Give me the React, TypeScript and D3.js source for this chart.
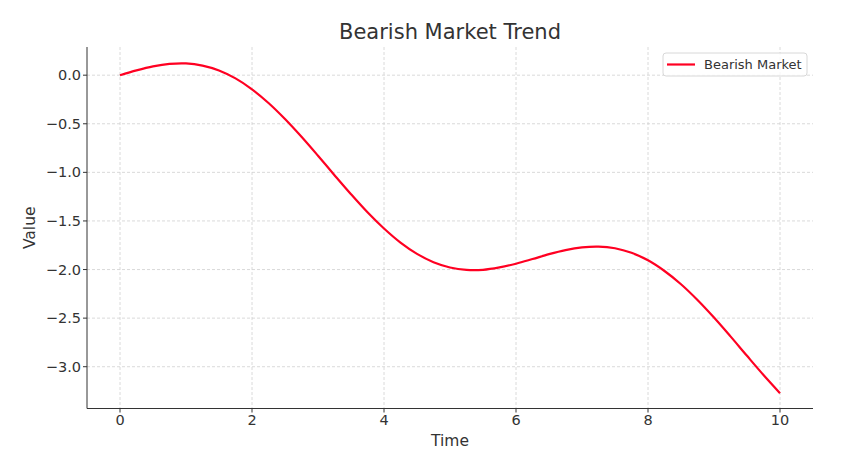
import React from "react";
import * as d3 from "d3";

const timeValues = [0, 0.25, 0.5, 0.75, 1, 1.25, 1.5, 1.75, 2, 2.25, 2.5, 2.75, 3, 3.25, 3.5, 3.75, 4, 4.25, 4.5, 4.75, 5, 5.25, 5.5, 5.75, 6, 6.25, 6.5, 6.75, 7, 7.25, 7.5, 7.75, 8, 8.25, 8.5, 8.75, 9, 9.25, 9.5, 9.75, 10];
const marketValues = [0, 0.049, 0.09, 0.116, 0.121, 0.099, 0.049, -0.033, -0.145, -0.286, -0.451, -0.634, -0.829, -1.029, -1.225, -1.411, -1.578, -1.723, -1.839, -1.925, -1.979, -2.004, -2.003, -1.978, -1.94, -1.892, -1.842, -1.8, -1.772, -1.764, -1.781, -1.828, -1.905, -2.015, -2.151, -2.313, -2.494, -2.688, -2.888, -3.085, -3.272];
const xTicks = [0, 2, 4, 6, 8, 10];
const yTicks = [0, -0.5, -1, -1.5, -2, -2.5, -3];
const seriesName = "Bearish Market";
const title = "Bearish Market Trend";

export default function App() {
  const W = 865, H = 461;
  const left = 87, right = 813, top = 47, bottom = 408.5;
  const x = d3.scaleLinear().domain([-0.5, 10.5]).range([left, right]);
  const y = d3.scaleLinear().domain([0.29, -3.43]).range([top, bottom]);
  const data = timeValues.map((t, i) => [t, marketValues[i]] as [number, number]);
  const line = d3.line<[number, number]>().x(d => x(d[0])).y(d => y(d[1])).curve(d3.curveCatmullRom.alpha(0.5));
  const font = "DejaVu Sans, sans-serif";
  const fmt = (v: number) => (v < 0 ? "\u2212" : "") + Math.abs(v).toFixed(1);
  return (
    <svg width={W} height={H} style={{ position: "absolute", left: 0, top: 0 }} fontFamily={font}>
      <rect width={W} height={H} fill="#fff" />
      {xTicks.map(t => (
        <line key={"gx" + t} x1={x(t)} x2={x(t)} y1={top} y2={bottom} stroke="#d0d0d0" strokeWidth={0.8} strokeDasharray="3,2" />
      ))}
      {yTicks.map(t => (
        <line key={"gy" + t} x1={left} x2={right} y1={y(t)} y2={y(t)} stroke="#d0d0d0" strokeWidth={0.8} strokeDasharray="3,2" />
      ))}
      <path d={line(data) || ""} fill="none" stroke="#ff0022" strokeWidth={2.2} />
      <line x1={left} x2={left} y1={top} y2={bottom} stroke="#333" strokeWidth={1} />
      <line x1={left} x2={right} y1={bottom} y2={bottom} stroke="#333" strokeWidth={1} />
      {xTicks.map(t => (
        <g key={"tx" + t}>
          <line x1={x(t)} x2={x(t)} y1={bottom} y2={bottom + 4} stroke="#333" />
          <text x={x(t)} y={bottom + 16.5} textAnchor="middle" fontSize={14.5} fill="#333">{t}</text>
        </g>
      ))}
      {yTicks.map(t => (
        <g key={"ty" + t}>
          <line x1={left - 4} x2={left} y1={y(t)} y2={y(t)} stroke="#333" />
          <text x={left - 6} y={y(t)} dy="0.35em" textAnchor="end" fontSize={14.5} fill="#333">{fmt(t)}</text>
        </g>
      ))}
      <text x={(left + right) / 2} y={446} textAnchor="middle" fontSize={15.5} fill="#333">Time</text>
      <text transform={`translate(35,${(top + bottom) / 2}) rotate(-90)`} textAnchor="middle" fontSize={15.5} fill="#333">Value</text>
      <text x={(left + right) / 2} y={39} textAnchor="middle" fontSize={21} fill="#333">{title}</text>
      <g>
        <rect x={663} y={53} width={144} height={23} rx={3} fill="#fff" fillOpacity={0.8} stroke="#d8d8d8" />
        <line x1={667} x2={695} y1={64.5} y2={64.5} stroke="#ff0022" strokeWidth={2.2} />
        <text x={704} y={64.5} dy="0.35em" fontSize={13} fill="#333">{seriesName}</text>
      </g>
    </svg>
  );
}
